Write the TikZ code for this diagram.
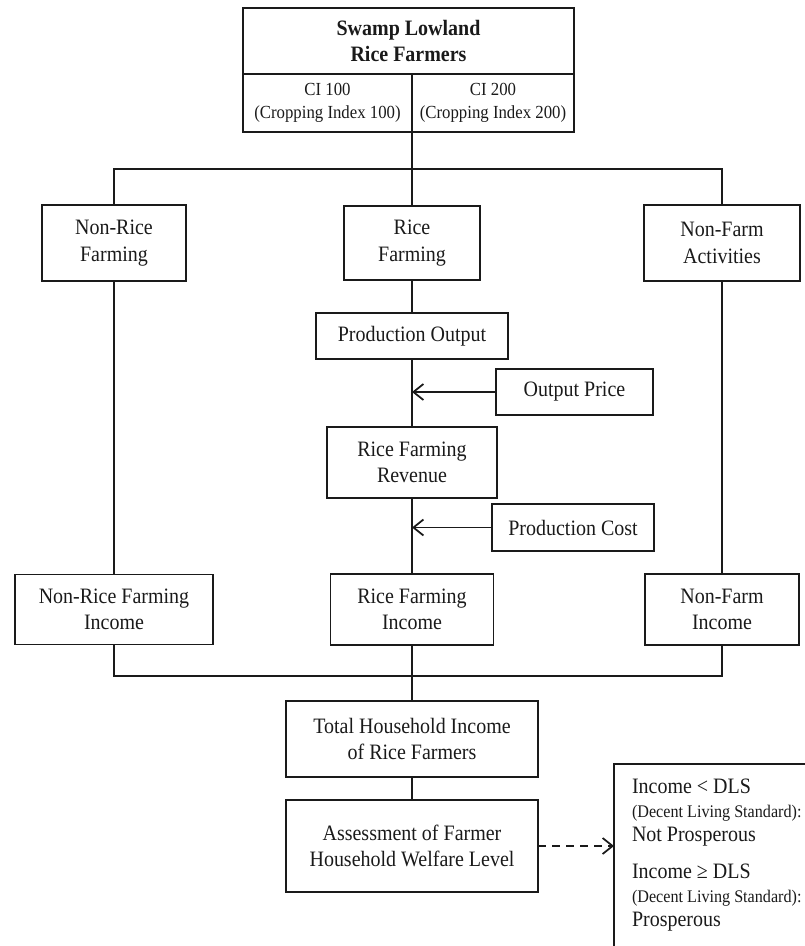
\documentclass[tikz,border=0pt]{standalone}
\usepackage{fontspec}
\setmainfont[FakeStretch=0.91]{Liberation Serif}
\usetikzlibrary{arrows.meta,positioning}
\definecolor{ink}{HTML}{1A1A1A}
\newcommand\mainsz{\fontsize{12.5}{15}\selectfont}
\newcommand\smallsz{\fontsize{10.5}{13}\selectfont}
\newcommand\notesz{\fontsize{10.1}{13.8}\selectfont}
\tikzset{
  box/.style={draw=ink,line width=1pt,align=center,inner sep=2pt,outer sep=0pt,font=\mainsz,text=ink},
  subbox/.style={box,font=\smallsz,minimum height=1.16cm},
  link/.style={line width=1pt,draw=ink},
  feed/.style={-{Straight Barb[length=2mm,width=3.2mm]},line width=1pt,draw=ink},
  note/.style={draw=ink,line width=1pt,align=flush left,text=ink,inner xsep=0.36cm,inner ysep=0.29cm,outer sep=0pt,
    text width=4.4cm,anchor=north west,font=\fontsize{12.5}{13.8}\selectfont}
}

\begin{document}
\begin{tikzpicture}
    \useasboundingbox (0,0) rectangle (16.08,-18.92);

    \node[box,minimum width=6.62cm,minimum height=1.32cm] (farmers) at (8.17,-0.82) {\textbf{Swamp Lowland}\\\textbf{Rice Farmers}};
    \node[subbox,anchor=north west,minimum width=3.38cm] (ci100) at (farmers.south west) {CI 100\\(Cropping Index 100)};
    \node[subbox,anchor=north east,minimum width=3.24cm] (ci200) at (farmers.south east) {CI 200\\(Cropping Index 200)};
    \coordinate[below=0.74cm of ci100.south east] (split);

    \node[box,minimum width=2.72cm,minimum height=1.48cm] (rice) at (8.24,-4.86) {Rice\\Farming};
    \node[box,left=3.16cm of rice,minimum width=2.88cm,minimum height=1.52cm] (nonrice) {Non-Rice\\Farming};
    \node[box,right=3.28cm of rice,minimum width=3.12cm,minimum height=1.52cm] (nonfarm) {Non-Farm\\Activities};

    \node[box,below=0.66cm of rice,minimum width=3.84cm,minimum height=0.92cm] (prodout) {Production Output};
    \node[box,below=1.36cm of prodout,minimum width=3.4cm,minimum height=1.42cm] (revenue) {Rice Farming\\Revenue};
    \node[box,anchor=west,minimum width=3.14cm,minimum height=0.92cm] (price) at ([xshift=1.68cm,yshift=-0.66cm]prodout.south) {Output Price};
    \node[box,anchor=west,minimum width=3.24cm,minimum height=0.94cm] (cost) at ([xshift=1.6cm,yshift=-0.59cm]revenue.south) {Production Cost};

    \node[box,below=1.52cm of revenue,minimum width=3.26cm,minimum height=1.42cm] (riceinc) {Rice Farming\\Income};
    \node[box,minimum width=3.96cm,minimum height=1.40cm] (nonriceinc) at (nonrice |- riceinc) {Non-Rice Farming\\Income};
    \node[box,minimum width=3.08cm,minimum height=1.42cm] (nonfarminc) at (nonfarm |- riceinc) {Non-Farm\\Income};
    \coordinate[below=0.62cm of riceinc.south] (join);

    \node[box,below=1.12cm of riceinc,minimum width=5.04cm,minimum height=1.52cm] (total) {Total Household Income\\of Rice Farmers};
    \node[box,below=0.46cm of total,minimum width=5.04cm,minimum height=1.84cm] (assess) {Assessment of Farmer\\Household Welfare Level};
    \node[note] (outcome) at ([xshift=1.52cm,yshift=0.72cm]assess.north east) {Income < DLS\\{\notesz (Decent Living Standard):}\\Not Prosperous\\[7pt]Income ≥ DLS\\{\notesz (Decent Living Standard):}\\Prosperous\\[0.6cm]\mbox{}};

    \draw[link] (ci100.south east) -- (split);
    \draw[link] (nonrice.north) |- (split) -| (nonfarm.north);
    \draw[link] (split) -- (rice.north);
    \draw[link] (rice) -- (prodout);
    \draw[link] (prodout) -- (revenue);
    \draw[link] (revenue) -- (riceinc);
    \draw[link] (nonrice) -- (nonriceinc);
    \draw[link] (nonfarm) -- (nonfarminc);
    \draw[feed] (price.west) -- (price.west -| prodout.south);
    \draw[feed] (cost.west) -- (cost.west -| revenue.south);
    \draw[link] (nonriceinc.south) |- (join) -| (nonfarminc.south);
    \draw[link] (riceinc) -- (total);
    \draw[link] (total) -- (assess);
    \draw[feed,dash pattern=on 1.6mm off 1.2mm] (assess.east) -- (assess.east -| outcome.west);
  \end{tikzpicture}
\end{document}
